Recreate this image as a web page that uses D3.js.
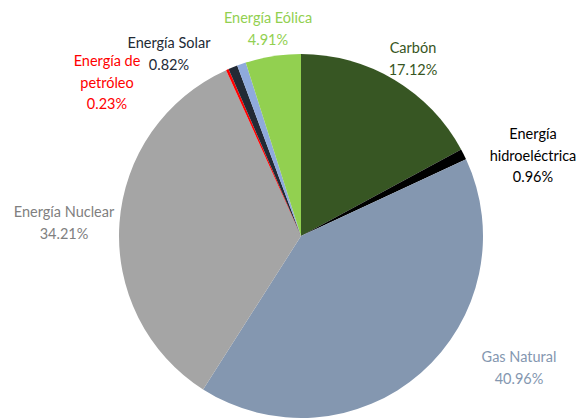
<!DOCTYPE html>
<html><head><meta charset="utf-8">
<script src="https://cdn.jsdelivr.net/npm/d3@7"></script>
<style>html,body{margin:0;padding:0;background:#fff;}</style>
</head><body>
<svg id="c" width="584" height="419"></svg>
<script>
const categories = ["Carbón","Energía hidroeléctrica","Gas Natural","Energía Nuclear","Energía de petróleo","Energía Solar","Otras","Energía Eólica"];
const values = [17.12, 0.96, 40.96, 34.21, 0.23, 0.82, 0.79, 4.91];
const colors = ["#375623","#000000","#8497B0","#A5A5A5","#FF0000","#222A35","#8FAADC","#92D050"];
const labelColors = ["#375623","#000000","#8497B0","#808080","#FF0000","#222A35",null,"#92D050"];
const labelLines = [["Carbón","17.12%"],["Energía","hidroeléctrica","0.96%"],["Gas Natural","40.96%"],["Energía Nuclear","34.21%"],["Energía de","petróleo","0.23%"],["Energía Solar","0.82%"],null,["Energía Eólica","4.91%"]];
// label anchor (center x, first baseline y)
const labelAnchor = [[413,53],[533,139],[519,362],[64,217],[107,66],[169,48],null,[268,23]];

const svg = d3.select("#c");
const cx = 301, cy = 236, R = 182;
const pie = d3.pie().sort(null).value(d => d)(values);
const arc = d3.arc().innerRadius(0).outerRadius(R);
const g = svg.append("g").attr("transform", `translate(${cx},${cy})`);
g.selectAll("path").data(pie).join("path")
  .attr("d", arc).attr("fill", (d,i) => colors[i]);

const font = "Lato, 'Open Sans', sans-serif";
labelLines.forEach((lines, i) => {
  if (!lines) return;
  const [x, y] = labelAnchor[i];
  const t = svg.append("text").attr("x", x).attr("y", y)
    .attr("text-anchor", "middle").attr("font-family", font)
    .attr("font-size", 14.5).attr("fill", labelColors[i]);
  lines.forEach((l, j) => t.append("tspan").attr("x", x).attr("dy", j === 0 ? 0 : 21.5).text(l));
});
// Solar label: second line offset left-aligned style
</script>
</body></html>
